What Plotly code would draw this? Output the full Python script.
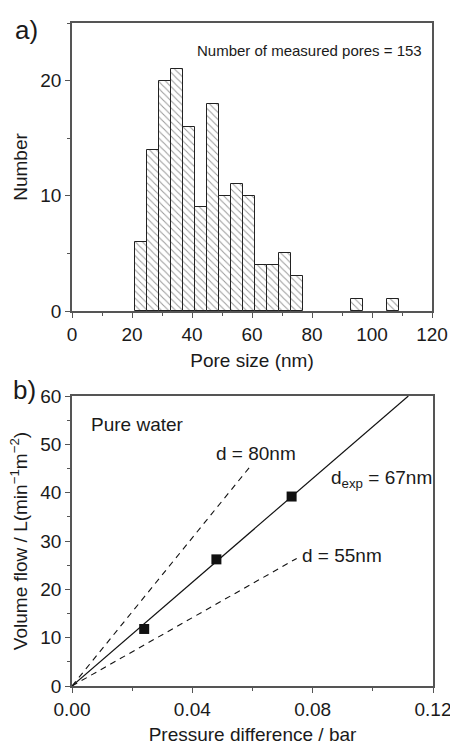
import plotly.graph_objects as go

# ---- Data: histogram (a) ----
bin_centers = [23, 27, 31, 35, 39, 43, 47, 51, 55, 59, 63, 67, 71, 75, 95, 107]
counts = [6, 14, 20, 21, 16, 9, 18, 10, 11, 10, 4, 4, 5, 3, 1, 1]
bin_width = 4

# ---- Data: flow vs pressure (b) ----
meas_dp = [0.024, 0.048, 0.073]
meas_flow = [11.8, 26.2, 39.2]
fit_dp = [0.0, 0.1118]
fit_flow = [0.0, 60.0]
d80_dp = [0.0, 0.0592]
d80_flow = [0.0, 45.4]
d55_dp = [0.0, 0.0747]
d55_flow = [0.0, 26.4]

FONT = "Liberation Sans, Arial, sans-serif"
TXT = "#1a1a1a"
AX = "#555555"
W, H = 450, 745

fig = go.Figure()

fig.add_trace(go.Bar(
    x=bin_centers, y=counts, width=bin_width,
    marker=dict(color="white",
                line=dict(color="#222222", width=1),
                pattern=dict(shape="\\", fgcolor="#333333", bgcolor="white",
                             size=5, solidity=0.2)),
    xaxis="x", yaxis="y", showlegend=False))

fig.add_trace(go.Scatter(x=fit_dp, y=fit_flow, mode="lines",
                         line=dict(color="#111111", width=1.2),
                         xaxis="x2", yaxis="y2", showlegend=False))
fig.add_trace(go.Scatter(x=d80_dp, y=d80_flow, mode="lines",
                         line=dict(color="#111111", width=1.1, dash="6px,5px"),
                         xaxis="x2", yaxis="y2", showlegend=False))
fig.add_trace(go.Scatter(x=d55_dp, y=d55_flow, mode="lines",
                         line=dict(color="#111111", width=1.1, dash="6px,5px"),
                         xaxis="x2", yaxis="y2", showlegend=False))
fig.add_trace(go.Scatter(x=meas_dp, y=meas_flow, mode="markers",
                         marker=dict(symbol="square", size=10, color="#111111"),
                         xaxis="x2", yaxis="y2", showlegend=False, cliponaxis=False))

def px_x(p):
    return p / W

def px_y(p):
    return 1 - p / H

axis_common = dict(showline=True, linecolor=AX, linewidth=1.5, mirror=True,
                   ticks="outside", ticklen=5, tickwidth=1.2, tickcolor=AX,
                   showgrid=False, zeroline=False, automargin=False,
                   ticklabeloverflow="allow",
                   tickfont=dict(family=FONT, size=19, color=TXT))

fig.update_layout(
    width=W, height=H,
    margin=dict(l=0, r=0, t=0, b=0),
    paper_bgcolor="white", plot_bgcolor="white",
    bargap=0,
    xaxis=dict(domain=[px_x(72), px_x(432)], range=[0, 120], anchor="y",
               tickvals=[0, 20, 40, 60, 80, 100, 120],
               minor=dict(tickvals=[10, 30, 50, 70, 90, 110], ticks="outside",
                          ticklen=3, tickcolor=AX),
               title=dict(text="Pore size (nm)", font=dict(family=FONT, size=19, color=TXT),
                          standoff=10),
               **axis_common),
    yaxis=dict(domain=[px_y(311), px_y(23)], range=[0, 25], anchor="x",
               tickvals=[0, 10, 20],
               minor=dict(tickvals=[5, 15, 25], ticks="outside", ticklen=3, tickcolor=AX),
               title=dict(text="Number", font=dict(family=FONT, size=19, color=TXT),
                          standoff=8),
               **axis_common),
    xaxis2=dict(domain=[px_x(72), px_x(433)], range=[0, 0.12], anchor="y2",
                tickvals=[0, 0.04, 0.08, 0.12], ticktext=["0.00", "0.04", "0.08", "0.12"],
                minor=dict(tickvals=[0.02, 0.06, 0.10], ticks="outside", ticklen=3, tickcolor=AX),
                title=dict(text="Pressure difference / bar",
                           font=dict(family=FONT, size=19, color=TXT), standoff=12),
                **axis_common),
    yaxis2=dict(domain=[px_y(686), px_y(396)], range=[0, 60], anchor="x2",
                tickvals=[0, 10, 20, 30, 40, 50, 60],
                minor=dict(tickvals=[5, 15, 25, 35, 45, 55], ticks="outside", ticklen=3,
                           tickcolor=AX),
                title=dict(text="Volume flow / L(min<sup>\u22121</sup>m<sup>\u22122</sup>)",
                           font=dict(family=FONT, size=19, color=TXT), standoff=8),
                **axis_common),
)

def ann(text, x, y, size=19, xanchor="left"):
    fig.add_annotation(text=text, x=px_x(x), y=px_y(y), xref="paper", yref="paper",
                       xanchor=xanchor, yanchor="middle", showarrow=False,
                       font=dict(family=FONT, size=size, color=TXT))

ann("a)", 13, 30, size=26)
ann("b)", 11, 390, size=26)
ann("Number of measured pores = 153", 424, 50, size=15, xanchor="right")
ann("Pure water", 89, 424)
ann("d = 80nm", 214, 453)
ann("d<sub>exp</sub> = 67nm", 329, 479)
ann("d = 55nm", 300, 555)

fig.write_html("out.html",
               config={"displayModeBar": False},
               post_script="document.body.style.margin='0';"
                           "document.body.style.overflow='hidden';")
